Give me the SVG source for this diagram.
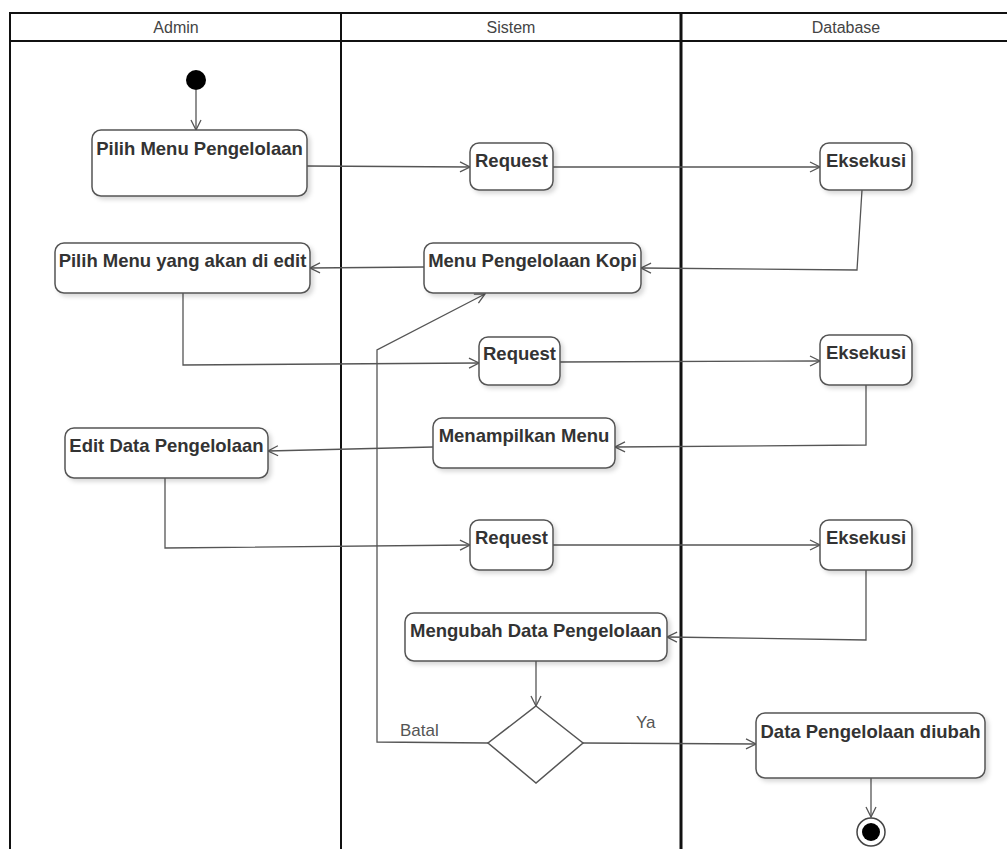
<svg xmlns="http://www.w3.org/2000/svg" width="1007" height="849" viewBox="0 0 1007 849">
<style>
.lane{stroke:#111;fill:none}
.hdr{font-family:"Liberation Sans",Arial,sans-serif;font-size:16px;fill:#444;text-anchor:middle}
.node rect{fill:#fff;stroke:#555;stroke-width:1.5;filter:url(#sh)}
.node text{font-family:"Liberation Sans",Arial,sans-serif;font-size:18.5px;font-weight:bold;fill:#333;text-anchor:middle}
.conn path{fill:none;stroke:#555;stroke-width:1.3;marker-end:url(#arr)}
.lbl{font-family:"Liberation Sans",Arial,sans-serif;font-size:17px;fill:#555}
</style>
<defs>
<filter id="sh" x="-10%" y="-10%" width="130%" height="140%">
<feDropShadow dx="3" dy="3" stdDeviation="2" flood-color="#000" flood-opacity="0.15"/>
</filter>
<marker id="arr" viewBox="0 0 12 12" refX="11" refY="6" markerWidth="12" markerHeight="12" markerUnits="userSpaceOnUse" orient="auto">
<path d="M1,1 L11,6 L1,11" fill="none" stroke="#555" stroke-width="1.3"/>
</marker>
</defs>
<rect width="1007" height="849" fill="#fff"/>
<g id="lanes">
<path class="lane" d="M10,849 V13 H1007" stroke-width="2"/>
<path class="lane" d="M10,41 H1007" stroke-width="2"/>
<path class="lane" d="M341,13 V849" stroke-width="2"/>
<path class="lane" d="M681,13 V849" stroke-width="3"/>
<text class="hdr" x="176" y="33">Admin</text>
<text class="hdr" x="511" y="33">Sistem</text>
<text class="hdr" x="846" y="33">Database</text>
</g>
<g id="conns" class="conn">
<path d="M196,90 V130"/>
<path d="M307,166 L470,167"/>
<path d="M553,167 H820"/>
<path d="M862,190 L857,270 L641,268"/>
<path d="M424,267 L310,268"/>
<path d="M183,293 V365 L479,363"/>
<path d="M560,362 L820,361"/>
<path d="M866,385 V445 L615,447"/>
<path d="M433,447 L268,451"/>
<path d="M165,478 V548 L470,545"/>
<path d="M553,545 L820,545"/>
<path d="M866,570 V640 L667,637"/>
<path d="M536,661 V706"/>
<path d="M488,743 L377,742 V350 L485,294"/>
<path d="M583,743 L756,744"/>
<path d="M871,778 V817"/>
<text class="lbl" x="400" y="736">Batal</text>
<text class="lbl" x="636" y="728">Ya</text>
</g>
<g id="start"><circle cx="196" cy="80" r="10" fill="#000"/></g>
<g id="n1" class="node"><rect x="92" y="130" width="215" height="66" rx="9"/><text x="199.5" y="155">Pilih Menu Pengelolaan</text></g>
<g id="n2" class="node"><rect x="470" y="143" width="83" height="47" rx="9"/><text x="511.5" y="167">Request</text></g>
<g id="n3" class="node"><rect x="820" y="143" width="92" height="47" rx="9"/><text x="866" y="167">Eksekusi</text></g>
<g id="n4" class="node"><rect x="424" y="243" width="217" height="50" rx="9"/><text x="532.5" y="267">Menu Pengelolaan Kopi</text></g>
<g id="n5" class="node"><rect x="55" y="243" width="255" height="50" rx="9"/><text x="182.5" y="267">Pilih Menu yang akan di edit</text></g>
<g id="n6" class="node"><rect x="479" y="337" width="81" height="48" rx="9"/><text x="519.5" y="360">Request</text></g>
<g id="n7" class="node"><rect x="820" y="335" width="92" height="50" rx="9"/><text x="866" y="359">Eksekusi</text></g>
<g id="n8" class="node"><rect x="433" y="418" width="182" height="50" rx="9"/><text x="524" y="442">Menampilkan Menu</text></g>
<g id="n9" class="node"><rect x="65" y="428" width="203" height="50" rx="9"/><text x="166.5" y="452">Edit Data Pengelolaan</text></g>
<g id="n10" class="node"><rect x="470" y="520" width="83" height="50" rx="9"/><text x="511.5" y="544">Request</text></g>
<g id="n11" class="node"><rect x="820" y="520" width="92" height="50" rx="9"/><text x="866" y="544">Eksekusi</text></g>
<g id="n12" class="node"><rect x="405" y="613" width="262" height="48" rx="9"/><text x="536" y="637">Mengubah Data Pengelolaan</text></g>
<g id="dec"><path d="M536,706 L583,743 L536,783 L488,743 Z" fill="#fff" stroke="#555" stroke-width="1.5"/></g>
<g id="n13" class="node"><rect x="756" y="713" width="229" height="65" rx="9"/><text x="870.5" y="738">Data Pengelolaan diubah</text></g>
<g id="end"><circle cx="871" cy="832" r="14" fill="#fff" stroke="#444" stroke-width="1.5"/><circle cx="871" cy="832" r="9" fill="#000"/></g>
</svg>
